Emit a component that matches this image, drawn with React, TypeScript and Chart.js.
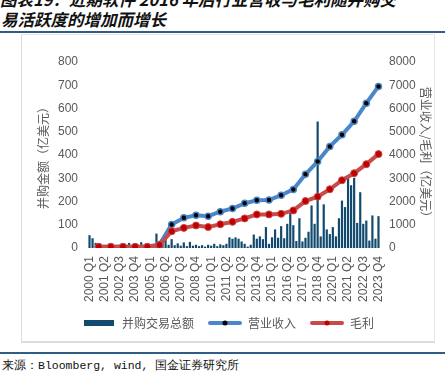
import React, { useEffect, useRef } from 'react';
import { Chart, registerables } from 'chart.js';

Chart.register(...registerables);

// ---- categories ----
const years: number[] = [2000, 2001, 2002, 2003, 2004, 2005, 2006, 2007, 2008, 2009, 2010, 2011, 2012, 2013, 2014, 2015, 2016, 2017, 2018, 2019, 2020, 2021, 2022, 2023];
const quarters: string[] = ['Q1', 'Q2', 'Q3', 'Q4'];
const quarterLabels: string[] = years.flatMap((y) => quarters.map((q) => `${y} ${q}`));

// ---- series: M&A deal value per quarter (亿美元, left axis) ----
const mnaDeals: number[] = [
  55, 42, 22, 10, 12, 8, 10, 6, 10, 8, 14, 8,
  10, 22, 12, 18, 10, 25, 14, 12, 10, 15, 62, 22,
  36, 52, 14, 38, 12, 20, 10, 24, 8, 26, 10, 14,
  8, 12, 6, 14, 10, 18, 8, 16, 12, 18, 46, 40,
  46, 40, 28, 18, 6, 14, 58, 40, 50, 38, 90, 18,
  46, 80, 44, 94, 42, 104, 165, 98, 30, 128, 28, 44,
  70, 183, 104, 544, 50, 188, 80, 60, 90, 50, 128, 204,
  176, 300, 270, 302, 108, 240, 104, 118, 32, 140, 40, 137,
];

// ---- series: annual revenue and gross profit (亿美元, right axis), plotted at Q4 ----
const revenueAnnual: number[] = [50, 50, 50, 50, 50, 150, 1010, 1300, 1410, 1370, 1560, 1700, 1920, 2050, 2060, 2270, 2520, 3170, 3720, 4370, 4870, 5450, 6230, 6950];
const grossAnnual: number[] = [50, 50, 50, 50, 50, 130, 720, 865, 968, 900, 1020, 1124, 1271, 1444, 1444, 1470, 1617, 2019, 2205, 2525, 2914, 3217, 3606, 4039];

const leftTicks = { min: 0, max: 800, step: 100 };
const rightTicks = { min: 0, max: 8000, step: 1000 };
const labelEvery = 5;

const toQuarterly = (annual: number[]): (number | null)[] =>
  quarterLabels.map((_, i) => (i % 4 === 3 ? annual[Math.floor(i / 4)] : null));

const BAR = '#114a6e';
const BLUE = '#4a86c8';
const RED = '#c84a4a';
const RED_DOT = '#c00000';
const GRAY = '#595959';

function makeLegendIcon(kind: 'bar' | 'line', color: string, dot: string): HTMLCanvasElement {
  const c = document.createElement('canvas');
  c.width = 34;
  c.height = 8;
  const g = c.getContext('2d')!;
  if (kind === 'bar') {
    g.fillStyle = color;
    g.fillRect(2, 1, 30, 6);
  } else {
    g.strokeStyle = color;
    g.lineWidth = 4;
    g.lineCap = 'round';
    g.beginPath();
    g.moveTo(2, 4);
    g.lineTo(32, 4);
    g.stroke();
    g.fillStyle = dot;
    g.beginPath();
    g.arc(17, 4, 2.5, 0, Math.PI * 2);
    g.fill();
  }
  return c;
}

function ChartCanvas() {
  const ref = useRef<HTMLCanvasElement | null>(null);
  useEffect(() => {
    if (!ref.current) return;
    const icons = [
      makeLegendIcon('bar', BAR, BAR),
      makeLegendIcon('line', BLUE, '#000'),
      makeLegendIcon('line', RED, RED_DOT),
    ];
    const tickFont = { family: '"Liberation Sans", Arial, sans-serif', size: 12 };
    const cjkFont = { family: '"Noto Sans CJK SC", sans-serif', size: 12 };
    const chart = new Chart(ref.current, {
      type: 'bar',
      data: {
        labels: quarterLabels,
        datasets: [
          {
            type: 'bar',
            label: '并购交易总额',
            data: mnaDeals,
            backgroundColor: BAR,
            yAxisID: 'y',
            order: 3,
            barPercentage: 0.85,
            categoryPercentage: 0.85,
          },
          {
            type: 'line',
            label: '营业收入',
            data: toQuarterly(revenueAnnual),
            borderColor: BLUE,
            borderWidth: 4,
            pointRadius: 3,
            pointBackgroundColor: '#000',
            pointBorderColor: BLUE,
            pointBorderWidth: 1.5,
            spanGaps: true,
            tension: 0,
            yAxisID: 'y1',
            order: 2,
          },
          {
            type: 'line',
            label: '毛利',
            data: toQuarterly(grossAnnual),
            borderColor: RED,
            borderWidth: 4,
            pointRadius: 3.5,
            pointBackgroundColor: RED_DOT,
            pointBorderColor: RED,
            pointBorderWidth: 1,
            spanGaps: true,
            tension: 0,
            yAxisID: 'y1',
            order: 1,
          },
        ] as any,
      },
      options: {
        animation: false,
        responsive: false,
        maintainAspectRatio: false,
        layout: { padding: { top: 28, left: 0, right: 0, bottom: 4 } },
        plugins: {
          tooltip: { enabled: false },
          legend: {
            position: 'bottom',
            labels: {
              usePointStyle: true,
              pointStyleWidth: 34,
              padding: 14,
              color: GRAY,
              font: cjkFont,
              sort: (a: any, b: any) => a.datasetIndex - b.datasetIndex,
              generateLabels: (ch: any) => {
                const items = (Chart.defaults.plugins.legend.labels as any).generateLabels(ch);
                return items.map((it: any) => ({ ...it, pointStyle: icons[it.datasetIndex] }));
              },
            },
          },
        },
        scales: {
          x: {
            grid: { display: false, drawTicks: false },
            border: { display: false },
            afterFit: (s: any) => { s.height = 55; },
            ticks: {
              autoSkip: false,
              maxRotation: 90,
              minRotation: 90,
              color: GRAY,
              font: tickFont,
              padding: 8,
              callback: (_v: any, i: number) => (i % labelEvery === 0 ? quarterLabels[i] : null),
            },
          },
          y: {
            position: 'left',
            min: leftTicks.min,
            max: leftTicks.max,
            grid: { display: false, drawTicks: false },
            border: { display: false },
            afterFit: (s: any) => { s.width = 67; },
            ticks: { stepSize: leftTicks.step, color: GRAY, font: tickFont, padding: 10 },
            title: { display: true, text: '并购金额（亿美元）', color: GRAY, font: cjkFont, padding: { top: 15, bottom: 0 } },
          },
          y1: {
            position: 'right',
            min: rightTicks.min,
            max: rightTicks.max,
            grid: { display: false, drawTicks: false },
            border: { display: false },
            afterFit: (s: any) => { s.width = 55; },
            ticks: { stepSize: rightTicks.step, color: GRAY, font: tickFont, padding: 9, callback: (v: any) => String(v) },
            title: { display: true, text: '营业收入/毛利（亿美元）', color: GRAY, font: cjkFont, padding: { top: 2, bottom: 0 } },
          },
        },
      } as any,
    });
    return () => chart.destroy();
  }, []);
  return <canvas ref={ref} width={414} height={309} style={{ width: 414, height: 309, display: 'block' }} />;
}

export default function App() {
  return (
    <div style={{ position: 'absolute', left: 0, top: 0, width: 445, height: 379, background: '#fff', overflow: 'hidden' }}>
      <div
        style={{
          position: 'absolute',
          left: 0,
          top: -11,
          width: 445,
          fontFamily: '"Noto Sans CJK SC", sans-serif',
          fontWeight: 700,
          fontStyle: 'italic',
          fontSize: 16.5,
          lineHeight: '20px',
          color: '#111',
          whiteSpace: 'nowrap',
        }}
      >
        <div>图表19：近期软件 2016 年后行业营收与毛利随并购交</div>
        <div style={{ paddingLeft: 1 }}>易活跃度的增加而增长</div>
      </div>
      <div style={{ position: 'absolute', left: 0, top: 31, width: 445, height: 2, background: '#2f5d85' }} />
      <div style={{ position: 'absolute', left: 21, top: 34, width: 414, height: 309, boxSizing: 'border-box', borderLeft: '1px solid #dcdcdc', borderTop: '1px solid #e6e6e6', borderRight: '1px solid #e6e6e6', borderBottom: '2px solid #dcdcdc' }} />
      <div style={{ position: 'absolute', left: 21, top: 34 }}>
        <ChartCanvas />
      </div>
      <div style={{ position: 'absolute', left: 0, top: 352, width: 445, height: 2, background: '#2f5d85' }} />
      <div
        style={{
          position: 'absolute',
          left: 2,
          top: 358,
          fontFamily: '"Liberation Mono", "DejaVu Sans Mono", monospace',
          fontSize: 11.5,
          lineHeight: '15px',
          color: '#111',
          whiteSpace: 'nowrap',
        }}
      >
        来源：Bloomberg, wind, 国金证券研究所
      </div>
    </div>
  );
}
